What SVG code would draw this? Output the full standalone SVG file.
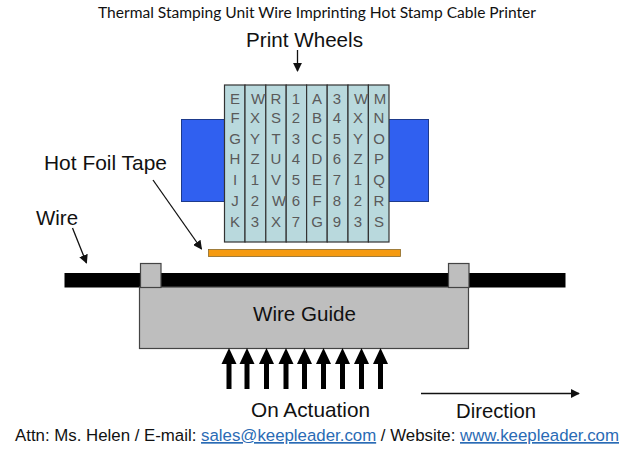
<svg xmlns="http://www.w3.org/2000/svg" width="631" height="454" viewBox="0 0 631 454">
<style>
text{font-family:"Liberation Sans",Arial,sans-serif;fill:#111}
.lab{font-size:20.600px}
.title{font-family:"Lato","Open Sans",sans-serif;font-size:14.500px}
.foot{font-size:16.800px}
.link{fill:#2a6bb5;text-decoration:underline}
.wheel{fill:#b9d9dd;stroke:#333;stroke-width:1.2}
.blue{fill:#3060f0;stroke:#1d3a8c;stroke-width:1}
.grey{fill:#bebebe;stroke:#444;stroke-width:1.2}
.ch{font-size:15px;fill:#5a5a5a;text-anchor:middle}
.thin{fill:none;stroke:#111;stroke-width:1.3}
</style>
<defs>
<marker id="ah" viewBox="0 0 10 10" refX="9" refY="5" markerWidth="9" markerHeight="9" markerUnits="userSpaceOnUse" orient="auto"><path d="M0 0L10 5L0 10z" fill="#111"/></marker>
<path id="up" d="M-7.500 364L0 348L7.500 364L2.500 364L2.500 389L-2.500 389L-2.500 364z" fill="#000"/>
</defs>
<text id="title" class="title" x="98" y="18" textLength="438" lengthAdjust="spacingAndGlyphs">Thermal Stamping Unit Wire Imprinting Hot Stamp Cable Printer</text>
<g id="blocks">
<rect class="blue" x="181.500" y="119.500" width="43" height="82"/>
<rect class="blue" x="388.500" y="119.500" width="40" height="82"/>
</g>
<g id="print-wheels">
<rect class="wheel" x="224.500" y="85" width="20.500" height="157"/>
<rect class="wheel" x="245" y="85" width="20.800" height="157"/>
<rect class="wheel" x="265.800" y="85" width="20.400" height="157"/>
<rect class="wheel" x="286.200" y="85" width="20.400" height="157"/>
<rect class="wheel" x="306.600" y="85" width="20.600" height="157"/>
<rect class="wheel" x="327.200" y="85" width="20.800" height="157"/>
<rect class="wheel" x="348" y="85" width="20.400" height="157"/>
<rect class="wheel" x="368.400" y="85" width="20.600" height="157"/>
<g class="ch">
<text class="ch" x="235" y="104">E</text><text class="ch" x="235" y="123">F</text><text class="ch" x="235" y="144">G</text><text class="ch" x="235" y="164">H</text><text class="ch" x="235" y="185">I</text><text class="ch" x="235" y="206">J</text><text class="ch" x="235" y="227">K</text>
<text class="ch" x="258" y="104">W</text><text class="ch" x="255" y="123">X</text><text class="ch" x="255" y="144">Y</text><text class="ch" x="255" y="164">Z</text><text class="ch" x="255" y="185">1</text><text class="ch" x="255" y="206">2</text><text class="ch" x="255" y="227">3</text>
<text class="ch" x="276" y="104">R</text><text class="ch" x="276" y="123">S</text><text class="ch" x="276" y="144">T</text><text class="ch" x="276" y="164">U</text><text class="ch" x="276" y="185">V</text><text class="ch" x="279" y="206">W</text><text class="ch" x="276" y="227">X</text>
<text class="ch" x="296" y="104">1</text><text class="ch" x="296" y="123">2</text><text class="ch" x="296" y="144">3</text><text class="ch" x="296" y="164">4</text><text class="ch" x="296" y="185">5</text><text class="ch" x="296" y="206">6</text><text class="ch" x="296" y="227">7</text>
<text class="ch" x="317" y="104">A</text><text class="ch" x="317" y="123">B</text><text class="ch" x="317" y="144">C</text><text class="ch" x="317" y="164">D</text><text class="ch" x="317" y="185">E</text><text class="ch" x="317" y="206">F</text><text class="ch" x="317" y="227">G</text>
<text class="ch" x="337" y="104">3</text><text class="ch" x="337" y="123">4</text><text class="ch" x="337" y="144">5</text><text class="ch" x="337" y="164">6</text><text class="ch" x="337" y="185">7</text><text class="ch" x="337" y="206">8</text><text class="ch" x="337" y="227">9</text>
<text class="ch" x="361" y="104">W</text><text class="ch" x="358" y="123">X</text><text class="ch" x="358" y="144">Y</text><text class="ch" x="358" y="164">Z</text><text class="ch" x="358" y="185">1</text><text class="ch" x="358" y="206">2</text><text class="ch" x="358" y="227">3</text>
<text class="ch" x="380" y="104">M</text><text class="ch" x="379" y="123">N</text><text class="ch" x="379" y="144">O</text><text class="ch" x="379" y="164">P</text><text class="ch" x="379" y="185">Q</text><text class="ch" x="379" y="206">R</text><text class="ch" x="379" y="227">S</text>
</g>
</g>
<g id="hot-foil-tape"><rect x="208.500" y="249.500" width="192" height="7" fill="#f59a10" stroke="#8a6a2a" stroke-width="0.800"/></g>
<g id="wire"><rect x="64.500" y="273" width="501" height="14.500" fill="#000"/></g>
<g id="wire-guide">
<rect class="grey" x="139.500" y="287" width="329" height="61.500"/>
<rect class="grey" x="140.500" y="263.500" width="20.500" height="24"/>
<rect class="grey" x="448.500" y="263.500" width="20.500" height="24"/>
<text class="lab" x="253" y="321" textLength="103" lengthAdjust="spacingAndGlyphs">Wire Guide</text>
</g>
<g id="connectors">
<path class="thin" marker-end="url(#ah)" d="M297.500 50V71"/>
<path class="thin" marker-end="url(#ah)" d="M153 180L201.500 249"/>
<path class="thin" marker-end="url(#ah)" d="M72.500 228L86.500 263"/>
<path class="thin" marker-end="url(#ah)" d="M421 393.500H579"/>
<use href="#up" x="229"/><use href="#up" x="247"/><use href="#up" x="266.500"/><use href="#up" x="286"/><use href="#up" x="304.500"/><use href="#up" x="323.500"/><use href="#up" x="342.500"/><use href="#up" x="361.500"/><use href="#up" x="380.500"/>
</g>
<text class="lab" x="246" y="47" textLength="117" lengthAdjust="spacingAndGlyphs">Print Wheels</text>
<text class="lab" x="44" y="170" textLength="123" lengthAdjust="spacingAndGlyphs">Hot Foil Tape</text>
<text class="lab" x="36" y="225" textLength="42" lengthAdjust="spacingAndGlyphs">Wire</text>
<text class="lab" x="251" y="417" textLength="119" lengthAdjust="spacingAndGlyphs">On Actuation</text>
<text class="lab" x="456" y="418" textLength="80" lengthAdjust="spacingAndGlyphs">Direction</text>
<text class="foot" x="15" y="441" textLength="604" lengthAdjust="spacingAndGlyphs">Attn: Ms. Helen / E-mail: <tspan class="link">sales@keepleader.com</tspan> / Website: <tspan class="link">www.keepleader.com</tspan></text>
</svg>
